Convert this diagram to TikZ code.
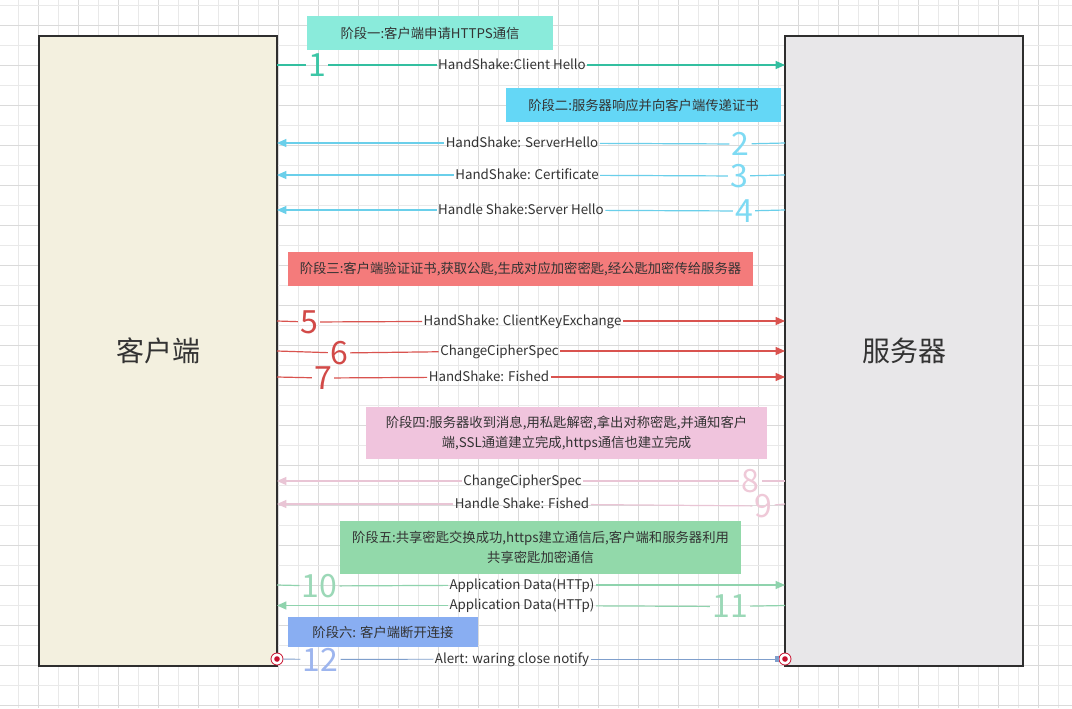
\documentclass[tikz,border=0pt]{standalone}
\usepackage{fontspec}
\setmainfont{Noto Sans CJK SC}
\usepackage{tikz}
\usetikzlibrary{arrows.meta}

\definecolor{text_gray}{HTML}{333333}
\definecolor{frame_gray}{HTML}{2E2E2E}
\definecolor{grid_light}{HTML}{E9E9E9}
\definecolor{grid_dark}{HTML}{DADADA}
\definecolor{client_fill}{HTML}{F3F0DF}
\definecolor{server_fill}{HTML}{E8E7E9}
\definecolor{phase_one_fill}{HTML}{8AEBDB}
\definecolor{phase_two_fill}{HTML}{64D7F6}
\definecolor{phase_three_fill}{HTML}{F47B7B}
\definecolor{phase_four_fill}{HTML}{F0C4DD}
\definecolor{phase_five_fill}{HTML}{92D9AA}
\definecolor{phase_six_fill}{HTML}{89AEF2}
\definecolor{teal_line}{HTML}{33BFA0}
\definecolor{teal_num}{HTML}{3CC6A6}
\definecolor{cyan_line}{HTML}{6ACFEA}
\definecolor{cyan_num}{HTML}{7EDAF3}
\definecolor{red_line}{HTML}{D9534F}
\definecolor{red_num}{HTML}{D24A48}
\definecolor{pink_line}{HTML}{E9C5D5}
\definecolor{pink_num}{HTML}{EFC9D8}
\definecolor{green_line}{HTML}{8FD3AD}
\definecolor{green_num}{HTML}{9BD8B7}
\definecolor{blue_line}{HTML}{7F9FCC}
\definecolor{blue_num}{HTML}{9DB5EE}
\definecolor{mark_red}{HTML}{C8102E}

\tikzset{
	party/.style = {
		rectangle,
		draw=frame_gray,
		line width=0.8pt,
		inner sep=0pt,
		minimum width=178.5pt,
		minimum height=472.5pt,
		font=\fontsize{21}{25}\selectfont,
		text=text_gray
	},
	party_client/.style = {
		party,
		fill=client_fill
	},
	party_server/.style = {
		party,
		fill=server_fill
	},
	phase/.style = {
		rectangle,
		align=center,
		inner sep=0pt,
		font=\fontsize{10}{15}\selectfont,
		text=text_gray
	},
	msg_text/.style = {
		inner sep=1pt,
		text height=0.75em,
		text depth=0.1em,
		font=\fontsize{10}{12}\selectfont,
		text=text_gray
	},
	msg_num/.style = {
		inner sep=1.5pt,
		font=\fontsize{24}{24}\selectfont
	},
	msg_line/.style = {
		line width=0.9pt
	},
	end_mark/.style = {
		circle,
		draw=mark_red,
		line width=0.6pt,
		fill=white,
		inner sep=0pt,
		minimum size=9pt,
		path picture={\fill[mark_red] (path picture bounding box.center) circle (2.1pt);}
	},
}

\begin{document}
\begin{tikzpicture}[x=0.75pt, y=-0.75pt, >={Triangle[length=7pt, width=6pt]}]
\useasboundingbox (0,0) rectangle (1072,708);
\fill[white] (0,0) rectangle (1072,708);

% background grid
\foreach \gx [count=\gi] in {18,38,...,1060} {
	\ifodd\gi \def\gc{grid_light}\else \def\gc{grid_dark}\fi
	\draw[\gc, line width=0.6pt] (\gx,0) -- (\gx,708);
}
\foreach \gy [count=\gi] in {5,25,...,706} {
	\ifodd\gi \def\gc{grid_light}\else \def\gc{grid_dark}\fi
	\draw[\gc, line width=0.6pt] (0,\gy) -- (1072,\gy);
}

% client and server
\node [party_client] (client) at (158,351) {客户端};
\node [party_server] (server) at (904,351) {服务器};

% phases
\node [phase, fill=phase_one_fill, minimum width=184.5pt, minimum height=26pt] (phase1) at (430,33) {阶段一:客户端申请HTTPS通信};
\node [phase, fill=phase_two_fill, minimum width=206pt, minimum height=25.5pt] (phase2) at (643.5,105) {阶段二:服务器响应并向客户端传递证书};
\node [phase, fill=phase_three_fill, minimum width=349pt, minimum height=25.5pt] (phase3) at (520.5,269) {阶段三:客户端验证证书,获取公匙,生成对应加密密匙,经公匙加密传给服务器};
\node [phase, fill=phase_four_fill, minimum width=301pt, minimum height=39pt] (phase4) at (566.5,433) {阶段四:服务器收到消息,用私匙解密,拿出对称密匙,并通知客户\\端,SSL通道建立完成,https通信也建立完成};
\node [phase, fill=phase_five_fill, minimum width=301pt, minimum height=40pt] (phase5) at (540.5,547.5) {阶段五:共享密匙交换成功,https建立通信后,客户端和服务器利用\\共享密匙加密通信};
\node [phase, fill=phase_six_fill, minimum width=143pt, minimum height=22pt] (phase6) at (383,632) {阶段六: 客户端断开连接};

% 1
\coordinate (c1) at (277,65);
\coordinate (s1) at (785,65);
\node [msg_num, text=teal_num] (n1) at (317,65) {1};
\node [msg_text] (l1) at (512,65) {HandShake:Client Hello};
\draw [msg_line, teal_line] (c1) -- (n1) (n1) -- (l1);
\draw [msg_line, teal_line, ->] (l1) -- (s1);

% 2 - 4
\coordinate (s2) at (785,143);
\coordinate (c2) at (277,143);
\node [msg_num, text=cyan_num] (n2) at (740.5,144) {2};
\node [msg_text] (l2) at (522,143) {HandShake: ServerHello};
\draw [msg_line, cyan_line] (s2) -- (n2) (n2) -- (l2);
\draw [msg_line, cyan_line, ->] (l2) -- (c2);

\coordinate (s3) at (785,175);
\coordinate (c3) at (277,175);
\node [msg_num, text=cyan_num] (n3) at (739,176) {3};
\node [msg_text] (l3) at (527,175) {HandShake: Certificate};
\draw [msg_line, cyan_line] (s3) -- (n3) (n3) -- (l3);
\draw [msg_line, cyan_line, ->] (l3) -- (c3);

\coordinate (s4) at (785,210);
\coordinate (c4) at (277,210);
\node [msg_num, text=cyan_num] (n4) at (744,211) {4};
\node [msg_text] (l4) at (521,210) {Handle Shake:Server Hello};
\draw [msg_line, cyan_line] (s4) -- (n4) (n4) -- (l4);
\draw [msg_line, cyan_line, ->] (l4) -- (c4);

% 5 - 7
\coordinate (c5) at (277,321);
\coordinate (s5) at (785,321);
\node [msg_num, text=red_num] (n5) at (309,322) {5};
\node [msg_text] (l5) at (522.5,321) {HandShake: ClientKeyExchange};
\draw [msg_line, red_line] (c5) -- (n5) (n5) -- (l5);
\draw [msg_line, red_line, ->] (l5) -- (s5);

\coordinate (c6) at (277,351);
\coordinate (s6) at (785,351);
\node [msg_num, text=red_num] (n6) at (339,353) {6};
\node [msg_text] (l6) at (499.5,351) {ChangeCipherSpec};
\draw [msg_line, red_line] (c6) -- (n6) (n6) -- (l6);
\draw [msg_line, red_line, ->] (l6) -- (s6);

\coordinate (c7) at (277,377);
\coordinate (s7) at (785,377);
\node [msg_num, text=red_num] (n7) at (323,378) {7};
\node [msg_text] (l7) at (489,377) {HandShake: Fished};
\draw [msg_line, red_line] (c7) -- (n7) (n7) -- (l7);
\draw [msg_line, red_line, ->] (l7) -- (s7);

% 8 - 9
\coordinate (s8) at (785,481);
\coordinate (c8) at (277,481);
\node [msg_num, text=pink_num] (n8) at (750.5,481) {8};
\node [msg_text] (l8) at (522.5,481) {ChangeCipherSpec};
\draw [msg_line, pink_line] (s8) -- (n8) (n8) -- (l8);
\draw [msg_line, pink_line, ->] (l8) -- (c8);

\coordinate (s9) at (785,504);
\coordinate (c9) at (277,504);
\node [msg_num, text=pink_num] (n9) at (763.5,506) {9};
\node [msg_text] (l9) at (522,504) {Handle Shake: Fished};
\draw [msg_line, pink_line] (s9) -- (n9) (n9) -- (l9);
\draw [msg_line, pink_line, ->] (l9) -- (c9);

% 10 - 11
\coordinate (c10) at (277,585);
\coordinate (s10) at (785,585);
\node [msg_num, text=green_num] (n10) at (319.5,586) {10};
\node [msg_text] (l10) at (522,585) {Application Data(HTTp)};
\draw [msg_line, green_line] (c10) -- (n10) (n10) -- (l10);
\draw [msg_line, green_line, ->] (l10) -- (s10);

\coordinate (s11) at (785,605.5);
\coordinate (c11) at (277,605.5);
\node [msg_num, text=green_num] (n11) at (730,606.5) {11};
\node [msg_text] (l11) at (522,605.5) {Application Data(HTTp)};
\draw [msg_line, green_line] (s11) -- (n11) (n11) -- (l11);
\draw [msg_line, green_line, ->] (l11) -- (c11);

% 12
\node [end_mark] (m_c) at (277,659) {};
\node [end_mark] (m_s) at (785,659) {};
\node [msg_num, text=blue_num] (n12) at (320.5,659.5) {12};
\node [msg_text] (l12) at (512,659) {Alert: waring close notify};
\draw [line width=0.7pt, blue_line] (m_c) -- (n12) (n12) -- (l12);
\draw [line width=0.7pt, blue_line, -{Square[length=2.5pt, width=5pt]}] (l12) -- (m_s);
\end{tikzpicture}
\end{document}
